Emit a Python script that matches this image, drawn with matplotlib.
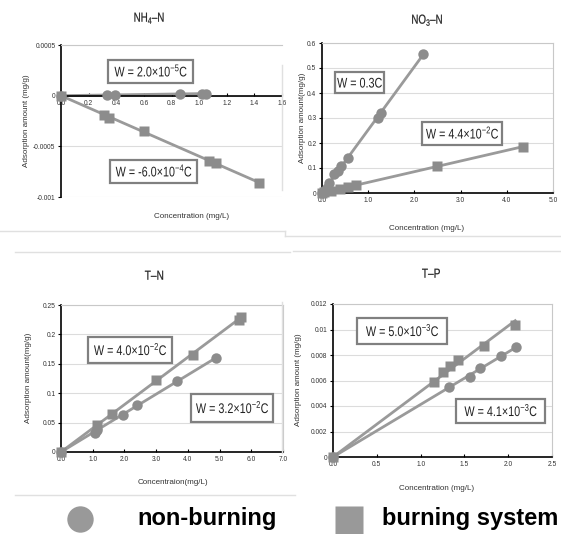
import matplotlib
matplotlib.use("Agg")
import matplotlib.pyplot as plt
import numpy as np
from matplotlib.lines import Line2D
from matplotlib.patches import PathPatch, Rectangle
from matplotlib.textpath import TextPath
from matplotlib.font_manager import FontProperties
from matplotlib.transforms import Affine2D, IdentityTransform

plt.rcParams['font.family'] = ['Liberation Sans', 'DejaVu Sans']
plt.rcParams['mathtext.fontset'] = 'custom'
plt.rcParams['mathtext.rm'] = 'Liberation Sans'
plt.rcParams['mathtext.it'] = 'Liberation Sans'

W, H = 561, 534

# NH4-N
nh4_non_x = [0, 0.33, 0.39, 0.86, 1.02, 1.05]
nh4_non_y = [0, 0.000007, 0.000008, 0.000017, 0.00002, 0.000021]
nh4_burn_x = [0, 0.31, 0.345, 0.6, 1.07, 1.12, 1.43]
nh4_burn_y = [0, -0.00019, -0.000225, -0.00035, -0.00064, -0.00066, -0.00086]

# NO3-N
no3_non_x = [0, 0.05, 0.1, 0.15, 0.27, 0.34, 0.42, 0.56, 1.22, 1.28, 2.18]
no3_non_y = [0, 0.01, 0.02, 0.04, 0.075, 0.09, 0.11, 0.14, 0.30, 0.32, 0.556]
no3_burn_x = [0, 0.05, 0.2, 0.4, 0.56, 0.74, 2.49, 4.36]
no3_burn_y = [0, 0.004, 0.01, 0.016, 0.024, 0.031, 0.108, 0.185]

# T-N
tn_non_x = [0, 1.06, 1.12, 1.95, 2.41, 3.65, 4.88]
tn_non_y = [0, 0.032, 0.038, 0.063, 0.08, 0.12, 0.16]
tn_burn_x = [0, 1.13, 1.6, 3.0, 4.15, 5.6, 5.66]
tn_burn_y = [0, 0.046, 0.065, 0.123, 0.165, 0.224, 0.230]

# T-P
tp_non_x = [0, 1.32, 1.56, 1.68, 1.92, 2.09]
tp_non_y = [0, 0.0055, 0.0063, 0.007, 0.0079, 0.0086]
tp_burn_x = [0, 1.15, 1.26, 1.34, 1.43, 1.72, 2.08]
tp_burn_y = [0, 0.0059, 0.0067, 0.0071, 0.0076, 0.0087, 0.01037]

equations = ['W = 2.0×10$^{-5}$C', 'W = -6.0×10$^{-4}$C', 'W = 0.3C', 'W = 4.4×10$^{-2}$C',
             'W = 4.0×10$^{-2}$C', 'W = 3.2×10$^{-2}$C', 'W = 5.0×10$^{-3}$C', 'W = 4.1×10$^{-3}$C']

GRAY_M = '#8c8c8c'
GRAY_L = '#9a9a9a'

fig = plt.figure(figsize=(W / 100, H / 100), dpi=100)


def px(x, y):
    return x / W, 1 - y / H


def ftext(x, y, s, **kw):
    fx, fy = px(x, y)
    return fig.text(fx, fy, s, **kw)


def ctext(x, y, s, size, sx=0.8, color='#222222', stroke=0):
    # narrow text: glyph outlines squeezed horizontally, centred on (x, y) pixels
    tp = TextPath((0, 0), s, size=size, prop=FontProperties(family='Liberation Sans'))
    ext = tp.get_extents()
    cx = (ext.x0 + ext.x1) / 2
    cy = 0.36 * size  # middle of capitals
    tr = Affine2D().translate(-cx, -cy).scale(sx, 1).translate(x, H - y)
    fig.add_artist(PathPatch(tr.transform_path(tp), fc=color,
                             ec=color if stroke else 'none', lw=stroke,
                             transform=IdentityTransform(), zorder=6))


def boxed(x0, y0, x1, y1, s, size=14, sx=0.77):
    fig.add_artist(Rectangle((x0 / W, 1 - y1 / H), (x1 - x0) / W, (y1 - y0) / H,
                             transform=fig.transFigure, fc='white', ec='#808080',
                             lw=1.6, zorder=5))
    ctext((x0 + x1) / 2, (y0 + y1) / 2, s, size, sx)


def axes_px(x0, y0, x1, y1):
    return fig.add_axes([x0 / W, 1 - y1 / H, (x1 - x0) / W, (y1 - y0) / H])


def trend(ax, x, y):
    # linear fit through the origin, drawn from 0 to the last point
    x = np.asarray(x)
    y = np.asarray(y)
    k = (x * y).sum() / (x * x).sum()
    ax.plot([0, x.max()], [0, k * x.max()], color=GRAY_L, lw=2, zorder=2)


def panel(ax, nx, ny, bx, by, xlim, ylim, xticks, yticks, xfmt, yfmt):
    ax.set_xlim(*xlim)
    ax.set_ylim(*ylim)
    for yt in yticks:
        ax.axhline(yt, color='#dcdcdc', lw=0.8, zorder=0)
    trend(ax, nx, ny)
    trend(ax, bx, by)
    ax.plot(nx, ny, 'o', color=GRAY_M, ms=7.5, mec='none', zorder=3, clip_on=False)
    ax.plot(bx, by, 's', color=GRAY_M, ms=7.5, mec='none', zorder=3, clip_on=False)
    ax.set_xticks(xticks)
    ax.set_yticks(yticks)
    ax.set_xticklabels([xfmt(v) for v in xticks])
    ax.set_yticklabels([yfmt(v) for v in yticks])
    ax.tick_params(labelsize=4.8, length=2.5, width=0.8, color='black', pad=1.5, labelcolor='#333333')
    ax.tick_params(axis='x', direction='in', pad=3)
    ax.tick_params(axis='y', direction='out')
    for s in ['top', 'right']:
        ax.spines[s].set_color('#c8c8c8')
        ax.spines[s].set_linewidth(0.8)
    for s in ['left', 'bottom']:
        ax.spines[s].set_color('black')
        ax.spines[s].set_linewidth(1.2)


f1 = lambda v: f'{v:.1f}'
g = lambda v: '0' if v == 0 else f'{v:g}'

# NH4-N
ax1 = axes_px(61, 45, 282, 197)
panel(ax1, nh4_non_x, nh4_non_y, nh4_burn_x, nh4_burn_y,
      (0, 1.6), (-0.001, 0.0005), [0, 0.2, 0.4, 0.6, 0.8, 1.0, 1.2, 1.4, 1.6],
      [-0.001, -0.0005, 0, 0.0005], f1,
      lambda v: {-0.001: '-0.001', -0.0005: '-0.0005', 0: '0', 0.0005: '0.0005'}[v])
ax1.spines['bottom'].set_position(('data', 0))
ax1.spines['right'].set_visible(False)

# NO3-N
ax2 = axes_px(322, 43, 553, 193)
panel(ax2, no3_non_x, no3_non_y, no3_burn_x, no3_burn_y,
      (0, 5), (0, 0.6), [0, 1, 2, 3, 4, 5], [0, 0.1, 0.2, 0.3, 0.4, 0.5, 0.6], f1, g)

# T-N
ax3 = axes_px(61, 305, 283, 452)
panel(ax3, tn_non_x, tn_non_y, tn_burn_x, tn_burn_y,
      (0, 7), (0, 0.25), [0, 1, 2, 3, 4, 5, 6, 7], [0, 0.05, 0.1, 0.15, 0.2, 0.25], f1, g)

# T-P
ax4 = axes_px(333, 304, 552, 457)
panel(ax4, tp_non_x, tp_non_y, tp_burn_x, tp_burn_y,
      (0, 2.5), (0, 0.012), [0, 0.5, 1.0, 1.5, 2.0, 2.5],
      [0, 0.002, 0.004, 0.006, 0.008, 0.01, 0.012], f1, g)

# titles
ctext(149, 17, r'NH$_4$–N', 13, 0.75, stroke=0.15)
ctext(427, 19, r'NO$_3$–N', 13, 0.75, stroke=0.15)
ctext(154, 275, 'T–N', 13, 0.78, stroke=0.15)
ctext(431, 273, 'T–P', 13, 0.78, stroke=0.15)

# axis labels
ylab = dict(fontsize=5.8, rotation=90, ha='center', va='center', color='#333333')
ftext(27, 121, 'Adsorption amount (mg/g)', **ylab)
ftext(302, 118, 'Adsorption amount(mg/g)', **ylab)
ftext(29, 378, 'Adsorption amount(mg/g)', **ylab)
ftext(299, 380, 'Adsorption amount (mg/g)', **ylab)
xlab = dict(fontsize=5.8, ha='center', va='center', color='#333333')
ftext(192, 217, 'Concentration (mg/L)', **xlab)
ftext(427, 229, 'Concentration (mg/L)', **xlab)
ftext(173, 483, 'Concentraion(mg/L)', **xlab)
ftext(437, 488, 'Concentration (mg/L)', **xlab)

# equation boxes
boxes = [(108, 60, 193, 83), (110, 160, 197, 183), (335, 72, 384, 93), (422, 122, 502, 145),
         (88, 337, 172, 363), (191, 394, 273, 422), (357, 318, 447, 344), (456, 399, 545, 423)]
for (x0, y0, x1, y1), s in zip(boxes, equations):
    boxed(x0, y0, x1, y1, s)

# faint panel separators
sep = dict(transform=fig.transFigure, color='#e0e0e0', lw=1)
for (xa, ya, xb, yb) in [(0, 231, 285, 231), (285, 231, 285, 236), (285, 236, 561, 236),
                         (15, 252, 290, 252), (293, 251, 561, 251),
                         (15, 495, 295, 495), (282, 65, 282, 190), (282, 302, 282, 453)]:
    fig.add_artist(Line2D([xa / W, xb / W], [1 - ya / H, 1 - yb / H], **sep))

# legend
fig.add_artist(Line2D([80 / W], [1 - 519 / H], transform=fig.transFigure, marker='o',
                      ms=19, color='#999999', mec='none', ls='none'))
fig.add_artist(Line2D([349 / W], [1 - 520 / H], transform=fig.transFigure, marker='s',
                      ms=19.5, color='#999999', mec='none', ls='none'))
leg = dict(fontsize=17, fontweight='bold', ha='left', va='center')
ftext(137, 518, 'non-burning', **leg)
ftext(382, 518, 'burning system', **leg)

fig.savefig('out.png', dpi=100)
